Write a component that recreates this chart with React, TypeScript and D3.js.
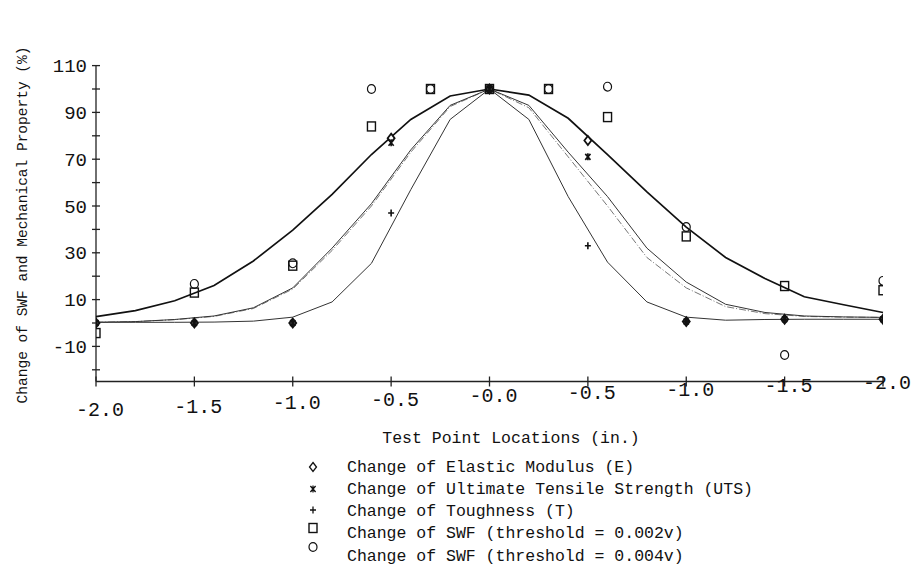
import React, { useEffect, useRef } from "react";
import * as d3 from "d3";

// x tick positions and their (typed) labels
const xTickValues = [-2, -1.5, -1, -0.5, 0, 0.5, 1, 1.5, 2];
const xTickLabels = ["-2.0", "-1.5", "-1.0", "-0.5", "-0.0", "-0.5", "-1.0", "-1.5", "-2.0"];

const yLabelTicks = [110, 90, 70, 50, 30, 10, -10];
const yMinorTicks = [100, 80, 60, 40, 20, 0, -20];

// fitted curves, sampled every 0.2 in.
const curveX = [-2, -1.8, -1.6, -1.4, -1.2, -1, -0.8, -0.6, -0.4, -0.2, 0, 0.2, 0.4, 0.6, 0.8, 1, 1.2, 1.4, 1.6, 1.8, 2];
const curveOuter = [2.7, 5.3, 9.5, 16, 26.5, 39.7, 55, 72, 87, 97, 100, 97.4, 87.5, 72, 56, 41, 28, 19, 11.2, 7.8, 4.5];
const curveMiddle = [0.3, 0.6, 1.5, 3, 6.5, 15, 32, 51, 74, 93, 100, 93, 73, 54, 32, 17.5, 8, 4.5, 3, 2.6, 2.4];
const curveMiddleDash = [0.3, 0.6, 1.4, 2.8, 6.2, 14.5, 31, 50, 73, 92.5, 100, 92, 71, 50, 28, 15, 7, 4, 2.8, 2.5, 2.4];
const curveInner = [0.3, 0.3, 0.3, 0.4, 0.8, 2.5, 9, 25.5, 57, 87, 100, 87, 54, 26, 9, 2.5, 1.2, 1.5, 1.6, 1.6, 1.6];

// measured mechanical properties
const propX = [-2, -1.5, -1, -0.5, 0, 0.5, 1, 1.5, 2];
const elasticE = [0, 0, 0, 79, 100, 78, 0.6, 1.6, 1.6];
const tensileUTS = [0, 0, 0, 77, 100, 71, 0.6, 1.6, 1.6];
const toughnessT = [0, 0, 0, 47, 100, 33, 0.6, 1.6, 1.6];

// SWF measurements
const swfX = [-2, -1.5, -1, -0.6, -0.3, 0, 0.3, 0.6, 1, 1.5, 2];
const swf002 = [-4.3, 13, 24.5, 84, 100, 100, 100, 88, 37, 15.8, 14];
const swf004 = [null, 16.7, 25.5, 100, 100, 100, 100, 101, 41, -13.7, 18];

const legendLabels = [
  "Change of Elastic Modulus (E)",
  "Change of Ultimate Tensile Strength (UTS)",
  "Change of Toughness (T)",
  "Change of SWF (threshold = 0.002v)",
  "Change of SWF (threshold = 0.004v)",
];

const FONT = "'Liberation Mono', 'Courier New', monospace";

function drawMarker(g: any, kind: string, cx: number, cy: number, sw = 1.3) {
  const s = g.append("g").attr("transform", `translate(${cx},${cy})`);
  if (kind === "diamond") {
    s.append("path").attr("d", "M0,-4.5L3.5,0L0,4.5L-3.5,0Z")
      .attr("fill", "#fff").attr("stroke", "#111").attr("stroke-width", sw);
  } else if (kind === "star") {
    s.append("path").attr("d", "M-2.6,-3L2.6,3M2.6,-3L-2.6,3M0,-3.5L0,3.5")
      .attr("stroke", "#111").attr("stroke-width", sw);
  } else if (kind === "plus") {
    s.append("path").attr("d", "M-3,0L3,0M0,-3.5L0,3.5")
      .attr("stroke", "#111").attr("stroke-width", sw);
  } else if (kind === "square") {
    s.append("rect").attr("x", -4).attr("y", -4.5).attr("width", 8).attr("height", 9)
      .attr("fill", "none").attr("stroke", "#111").attr("stroke-width", 1.4);
  } else if (kind === "circle") {
    s.append("ellipse").attr("rx", 4).attr("ry", 4.4)
      .attr("fill", "none").attr("stroke", "#111").attr("stroke-width", 1.2);
  }
}

export default function App() {
  const ref = useRef<SVGSVGElement>(null);

  useEffect(() => {
    const svg = d3.select(ref.current);
    svg.selectAll("*").remove();

    const x = d3.scaleLinear().domain([-2, 2]).range([96, 883]);
    const y = d3.scaleLinear().domain([-25, 110]).range([381.5, 65.6]);

    svg.append("defs").append("clipPath").attr("id", "plotclip")
      .append("rect").attr("x", x(-2)).attr("y", 40).attr("width", x(2) - x(-2)).attr("height", 360);

    // AXES
    const axis = svg.append("g").attr("stroke", "#222").attr("stroke-width", 1.3);
    axis.append("line").attr("x1", x(-2)).attr("x2", x(-2)).attr("y1", y(110)).attr("y2", y(-25));
    axis.append("line").attr("x1", x(-2)).attr("x2", x(2)).attr("y1", y(-25)).attr("y2", y(-25));

    [...yLabelTicks, ...yMinorTicks].forEach(v => {
      axis.append("line").attr("x1", x(-2) - 4).attr("x2", x(-2) + 4).attr("y1", y(v)).attr("y2", y(v));
    });
    xTickValues.forEach(v => {
      axis.append("line").attr("x1", x(v)).attr("x2", x(v)).attr("y1", y(-25) - 5).attr("y2", y(-25) + 5);
    });

    svg.selectAll(".ylab").data(yLabelTicks).enter().append("text")
      .attr("x", x(-2) - 9).attr("y", d => y(d))
      .attr("dy", "0.35em").attr("text-anchor", "end")
      .attr("font-family", FONT).attr("font-size", 19).attr("fill", "#111")
      .text(d => String(d));

    // labels on the scanned axis drift upward a little to the right
    svg.selectAll(".xlab").data(xTickValues).enter().append("text")
      .attr("x", d => x(d) + 4).attr("y", (d, i) => 409 - i * 3.4)
      .attr("dy", "0.35em").attr("text-anchor", "middle")
      .attr("font-family", FONT).attr("font-size", 20).attr("fill", "#111")
      .text((d, i) => xTickLabels[i]);

    // CURVES
    const line = d3.line<number>().x((d, i) => x(curveX[i])).y(d => y(d));
    const curves = svg.append("g").attr("fill", "none");
    curves.append("path").attr("d", line(curveInner)).attr("stroke", "#333").attr("stroke-width", 1);
    curves.append("path").attr("d", line(curveMiddleDash)).attr("stroke", "#777")
      .attr("stroke-width", 1).attr("stroke-dasharray", "7,2,1,2");
    curves.append("path").attr("d", line(curveMiddle)).attr("stroke", "#333").attr("stroke-width", 1);
    curves.append("path").attr("d", line(curveOuter)).attr("stroke", "#111").attr("stroke-width", 1.7);

    // POINTS
    const pts = svg.append("g").attr("clip-path", "url(#plotclip)");
    swf002.forEach((v, i) => { if (v !== null) drawMarker(pts, "square", x(swfX[i]), y(v)); });
    swf004.forEach((v, i) => { if (v !== null) drawMarker(pts, "circle", x(swfX[i]), y(v)); });
    elasticE.forEach((v, i) => drawMarker(pts, "diamond", x(propX[i]), y(v), 1.8));
    tensileUTS.forEach((v, i) => drawMarker(pts, "star", x(propX[i]), y(v), 1.6));
    toughnessT.forEach((v, i) => drawMarker(pts, "plus", x(propX[i]), y(v), 1.6));

    // AXIS TITLES
    svg.append("text")
      .attr("transform", "translate(22,225) rotate(-90)")
      .attr("text-anchor", "middle").attr("dy", "0.35em")
      .attr("font-family", FONT).attr("font-size", 14.5).attr("fill", "#111")
      .text("Change of SWF and Mechanical Property (%)");

    svg.append("text")
      .attr("x", 511).attr("y", 437).attr("dy", "0.35em")
      .attr("text-anchor", "middle")
      .attr("font-family", FONT).attr("font-size", 16.5).attr("fill", "#111")
      .text("Test Point Locations (in.)");

    // LEGEND
    const kinds = ["diamond", "star", "plus", "square", "circle"];
    const markerY = [467, 489, 510, 528, 547];
    const leg = svg.append("g");
    legendLabels.forEach((label, i) => {
      drawMarker(leg, kinds[i], 313, markerY[i]);
      leg.append("text")
        .attr("x", 347).attr("y", 466 + i * 22.2).attr("dy", "0.35em")
        .attr("font-family", FONT).attr("font-size", 16.5).attr("fill", "#111")
        .text(label);
    });
  }, []);

  return (
    <svg
      ref={ref}
      width={914}
      height={573}
      style={{ position: "absolute", left: 0, top: 0, background: "#fff" }}
    />
  );
}
